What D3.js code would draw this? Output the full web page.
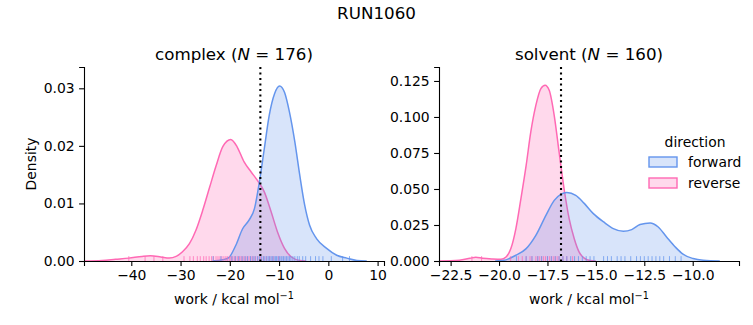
<!doctype html>
<html>

<head>
    <meta charset="utf-8">
    <style>
        body {
            margin: 0;
            background: #fff;
        }

        svg {
            font-family: "DejaVu Sans", sans-serif;
        }

        .axis path,
        .axis line {
            stroke: #000;
            stroke-width: 1.1px;
        }

        .axis text {
            font-size: 13.9px;
            fill: #000;
            font-family: "DejaVu Sans", sans-serif;
        }

        .kde-area {
            fill-opacity: 0.25;
            stroke: none;
        }

        .kde-line {
            fill: none;
            stroke-width: 1.5px;
        }

        .rug line {
            stroke-width: 1px;
            stroke-opacity: 0.75;
        }

        .cutoff {
            stroke: #000;
            stroke-width: 2.1px;
            stroke-dasharray: 2.1, 3.4;
        }
    </style>
    <script src="https://d3js.org/d3.v7.min.js"></script>
</head>

<body>
    <script>
        // hue levels and colours
        const directions = ["forward", "reverse"]
        const colors = { forward: "#6495ed", reverse: "#ff69b4" }

        // complex leg: kde curves as [work, density]
        const complexForwardKde = [
            [-23.5, 0], [-21.5, 0.0002], [-20.2, 0.0006], [-18.8, 0.0027], [-17.4, 0.0056],
            [-16.1, 0.0071], [-15.0, 0.0091], [-14.0, 0.0137], [-13.0, 0.0195], [-12.0, 0.0253],
            [-10.9, 0.0291], [-9.9, 0.0304], [-8.9, 0.0293], [-7.9, 0.0259], [-6.8, 0.0207],
            [-5.8, 0.0149], [-4.8, 0.0097], [-3.8, 0.0062], [-2.4, 0.0039], [-0.35, 0.0022],
            [1.7, 0.001], [3.75, 0.0005], [5.8, 0.0001], [7.8, 0]
        ]
        const complexReverseKde = [
            [-49.6, 0], [-45.9, 0.0001], [-43.2, 0.0003], [-40.5, 0.0005], [-37.8, 0.0008],
            [-36.1, 0.0009], [-34.0, 0.0007], [-32.3, 0.0005], [-30.9, 0.0008], [-29.6, 0.0016],
            [-28.2, 0.003], [-26.9, 0.0053], [-25.5, 0.0088], [-24.1, 0.0128], [-22.8, 0.0165],
            [-21.4, 0.0199], [-19.8, 0.0211], [-18.5, 0.0198], [-17.1, 0.0172], [-15.7, 0.0155],
            [-14.4, 0.014], [-13.0, 0.012], [-11.6, 0.0085], [-10.3, 0.005], [-8.9, 0.0022],
            [-7.5, 0.0007], [-5.8, 0.0001], [-4.5, 0]
        ]
        // complex leg: individual work values (rug)
        const complexForwardWork = [
            -23.4, -21.8, -19.6, -18.9, -18.2, -17.5, -16.9, -16.4, -15.8, -15.3, -14.9, -14.4,
            -14.0, -13.6, -13.2, -12.9, -12.5, -12.2, -11.9, -11.6, -11.3, -11.0, -10.7, -10.5,
            -10.2, -9.9, -9.6, -9.4, -9.1, -8.8, -8.5, -8.2, -7.9, -7.6, -7.2, -6.8, -6.3, -5.9,
            -5.2, -4.6, -3.6, -2.6, -1.9, -1.1, 0.6, 2.9, 4.3
        ]
        const complexReverseWork = [
            -40.5, -37.2, -35.4, -33.6, -29.3, -28.1, -27.4, -26.6, -26.0, -25.3, -24.8, -24.2,
            -23.7, -23.3, -22.8, -22.4, -22.0, -21.6, -21.2, -20.8, -20.5, -20.1, -19.8, -19.5,
            -19.1, -18.8, -18.4, -18.0, -17.7, -17.3, -16.9, -16.5, -16.1, -15.7, -15.3, -14.8,
            -14.3, -13.8, -13.2, -12.6, -11.9, -11.2, -10.1
        ]

        // solvent leg
        const solventForwardKde = [
            [-20.2, 0], [-19.8, 0.0003], [-19.13, 0.004], [-18.6, 0.0086], [-18.1, 0.0178],
            [-17.58, 0.0317], [-17.15, 0.0421], [-16.81, 0.0463], [-16.5, 0.0475], [-16.04, 0.0456],
            [-15.6, 0.04], [-15.13, 0.0329], [-14.6, 0.0271], [-14.1, 0.0225], [-13.58, 0.0206],
            [-13.15, 0.0218], [-12.72, 0.0253], [-12.2, 0.0264], [-11.78, 0.0236], [-11.35, 0.0167],
            [-10.9, 0.0097], [-10.5, 0.0047], [-9.98, 0.0017], [-9.46, 0.0005], [-8.6, 0]
        ]
        const solventReverseKde = [
            [-23.1, 0], [-22.05, 0.0005], [-21.5, 0.0019], [-21.2, 0.0026], [-20.85, 0.0019],
            [-20.33, 0.0014], [-19.9, 0.0012], [-19.64, 0.0028], [-19.39, 0.0086], [-19.13, 0.0225],
            [-18.87, 0.0433], [-18.6, 0.0664], [-18.36, 0.0896], [-18.1, 0.108], [-17.84, 0.1197],
            [-17.62, 0.122], [-17.41, 0.1185], [-17.15, 0.101], [-16.9, 0.0757], [-16.64, 0.05],
            [-16.38, 0.0294], [-16.12, 0.0156], [-15.87, 0.0063], [-15.6, 0.002], [-15.3, 0.0003],
            [-15.0, 0]
        ]
        const solventForwardWork = [
            -19.1, -18.6, -18.3, -18.0, -17.8, -17.5, -17.3, -17.1, -16.9, -16.7, -16.5, -16.3,
            -16.1, -15.9, -15.7, -15.5, -15.3, -15.1, -14.6, -14.4, -14.2, -13.9, -13.7, -13.5,
            -13.2, -12.9, -12.7, -12.5, -12.3, -12.1, -11.9, -11.7, -11.5, -11.2, -10.9, -10.6
        ]
        const solventReverseWork = [
            -21.4, -20.9, -19.4, -19.0, -18.8, -18.6, -18.4, -18.3, -18.1, -18.0, -17.9, -17.8,
            -17.7, -17.6, -17.5, -17.4, -17.3, -17.2, -17.1, -17.0, -16.9, -16.7, -16.5, -16.2
        ]

        // free energy estimates (dotted lines)
        const complexDeltaG = -13.8
        const solventDeltaG = -16.8

        // tick values
        const complexXTicks = [-40, -30, -20, -10, 0, 10]
        const complexYTicks = [0, 0.01, 0.02, 0.03]
        const solventXTicks = [-22.5, -20, -17.5, -15, -12.5, -10]
        const solventYTicks = [0, 0.025, 0.05, 0.075, 0.1, 0.125]

        const panels = [
            {
                name: "complex", n: 176, left: 84, xDomain: [-49.6, 11.3], yDomain: [0, 0.0337],
                xTicks: complexXTicks, yTicks: complexYTicks, xFmt: "d", yFmt: ".2f",
                kde: { forward: complexForwardKde, reverse: complexReverseKde },
                work: { forward: complexForwardWork, reverse: complexReverseWork },
                deltaG: complexDeltaG, ylabel: true
            },
            {
                name: "solvent", n: 160, left: 439, xDomain: [-23.1, -7.61], yDomain: [0, 0.1347],
                xTicks: solventXTicks, yTicks: solventYTicks, xFmt: ".1f", yFmt: ".3f",
                kde: { forward: solventForwardKde, reverse: solventReverseKde },
                work: { forward: solventForwardWork, reverse: solventReverseWork },
                deltaG: solventDeltaG, ylabel: false
            }
        ]

        const svg = d3.select("body").append("svg")
            .attr("width", 753)
            .attr("height", 325)

        const panelWidth = 300
        const axTop = 67
        const axBottom = 261

        svg.append("text")
            .attr("x", 376.5)
            .attr("y", 19)
            .attr("text-anchor", "middle")
            .style("font-size", "16.7px")
            .text("RUN1060")

        const drawPanel = (p) => {
            const x = d3.scaleLinear().domain(p.xDomain).range([p.left, p.left + panelWidth])
            const y = d3.scaleLinear().domain(p.yDomain).range([axBottom, axTop])
            const g = svg.append("g")

            const area = d3.area()
                .x(d => x(d[0]))
                .y0(y(0))
                .y1(d => y(d[1]))
                .curve(d3.curveMonotoneX)
            const line = d3.line()
                .x(d => x(d[0]))
                .y(d => y(d[1]))
                .curve(d3.curveMonotoneX)

            // reverse first so forward sits on top
            const order = ["reverse", "forward"]
            order.forEach(dir => {
                g.append("path")
                    .datum(p.kde[dir])
                    .attr("class", "kde-area")
                    .attr("fill", colors[dir])
                    .attr("d", area)
                g.append("path")
                    .datum(p.kde[dir])
                    .attr("class", "kde-line")
                    .attr("stroke", colors[dir])
                    .attr("d", line)
            })

            // rug, 2.5% of axes height
            const rugH = (axBottom - axTop) * 0.025
            order.forEach(dir => {
                g.append("g")
                    .attr("class", "rug")
                    .selectAll("line")
                    .data(p.work[dir])
                    .enter()
                    .append("line")
                    .attr("x1", d => x(d))
                    .attr("x2", d => x(d))
                    .attr("y1", axBottom)
                    .attr("y2", axBottom - rugH)
                    .attr("stroke", colors[dir])
            })

            g.append("line")
                .attr("class", "cutoff")
                .attr("x1", x(p.deltaG))
                .attr("x2", x(p.deltaG))
                .attr("y1", axTop)
                .attr("y2", axBottom)

            g.append("g")
                .attr("class", "axis")
                .attr("transform", `translate(0,${axBottom})`)
                .call(d3.axisBottom(x).tickValues(p.xTicks).tickFormat(d3.format(p.xFmt))
                    .tickSizeOuter(0).tickSize(4.9).tickPadding(4.4))

            g.append("g")
                .attr("class", "axis")
                .attr("transform", `translate(${p.left},0)`)
                .call(d3.axisLeft(y).tickValues(p.yTicks).tickFormat(d3.format(p.yFmt))
                    .tickSizeOuter(0).tickSize(4.9).tickPadding(4.4))

            const cx = p.left + panelWidth / 2
            const title = g.append("text")
                .attr("x", cx)
                .attr("y", 60)
                .attr("text-anchor", "middle")
                .style("font-size", "16.7px")
            title.append("tspan").text(p.name + " (")
            title.append("tspan").style("font-style", "italic").text("N")
            title.append("tspan").text(" = " + p.n + ")")

            const xl = g.append("text")
                .attr("x", cx)
                .attr("y", 304)
                .attr("text-anchor", "middle")
                .style("font-size", "13.9px")
            xl.append("tspan").text("work / kcal mol")
            xl.append("tspan").attr("dy", -5).style("font-size", "9.7px").text("\u22121")

            if (p.ylabel) {
                g.append("text")
                    .attr("transform", `translate(36,${(axTop + axBottom) / 2}) rotate(-90)`)
                    .attr("text-anchor", "middle")
                    .style("font-size", "13.9px")
                    .text("Density")
            }
        }

        panels.forEach(drawPanel)

        // legend
        const legend = svg.append("g")
        legend.append("text")
            .attr("x", 695)
            .attr("y", 147)
            .attr("text-anchor", "middle")
            .style("font-size", "13.9px")
            .text("direction")

        const item = legend.selectAll("g.item")
            .data(directions)
            .enter()
            .append("g")
            .attr("class", "item")
            .attr("transform", (d, i) => `translate(649,${157 + i * 21})`)
        item.append("rect")
            .attr("width", 28)
            .attr("height", 10)
            .attr("fill", d => colors[d])
            .attr("fill-opacity", 0.25)
            .attr("stroke", d => colors[d])
            .attr("stroke-width", 1.4)
        item.append("text")
            .attr("x", 39)
            .attr("y", 10)
            .style("font-size", "13.9px")
            .text(d => d)
    </script>
</body>

</html>
